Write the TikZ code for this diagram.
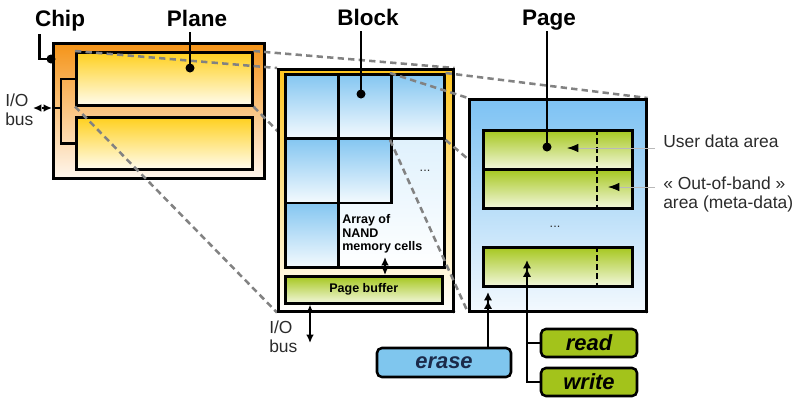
\documentclass[tikz,border=0pt]{standalone}
\usepackage{fontspec}
\setmainfont{Liberation Sans}
\usetikzlibrary{arrows.meta,calc}
\definecolor{chiporange}{HTML}{F59418}
\definecolor{chiplight}{HTML}{FFF7EE}
\definecolor{planegold}{HTML}{FFD01E}
\definecolor{planelight}{HTML}{FFFCEE}
\definecolor{blockgold}{HTML}{FFC61F}
\definecolor{cellblue}{HTML}{84C6F1}
\definecolor{celllight}{HTML}{F4FAFE}
\definecolor{arrayblue}{HTML}{CFEAFB}
\definecolor{pageblue}{HTML}{7DC2F3}
\definecolor{pagelight}{HTML}{F3F9FE}
\definecolor{rowgreen}{HTML}{A6C71F}
\definecolor{rowlight}{HTML}{F2F7DC}
\definecolor{erasefill}{HTML}{7FC6EE}
\definecolor{erasetext}{HTML}{1B2A4A}
\definecolor{opgreen}{HTML}{A3C31B}
\definecolor{zoomgray}{HTML}{828282}
\definecolor{darkgray}{HTML}{2B2B2B}
\newcommand\pxu{0.025cm}
\pgfdeclarelayer{back}
\pgfdeclarelayer{mid}
\pgfsetlayers{back,mid,main}

\begin{document}
\begin{tikzpicture}[x=0.025cm,y=-0.025cm,
  box/.style={draw=black,line width=1.8pt,inner sep=0pt,anchor=north west},
  sized/.style 2 args={minimum width=#1*\pxu,minimum height=#2*\pxu},
  title/.style={font=\bfseries\fontsize{16}{19}\selectfont,inner sep=0pt,anchor=base},
  note/.style={text=darkgray,font=\fontsize{12.4}{13.4}\selectfont,inner sep=0pt},
  small/.style={text=black,font=\bfseries\fontsize{8.9}{9.8}\selectfont},
  lead/.style={line width=1.8pt},
  zoomline/.style={draw=zoomgray,line width=1.8pt,dash pattern=on 4.5pt off 3pt},
  biarrow/.style={line width=1.4pt,{Latex[length=6pt,width=5.5pt]}-{Latex[length=6pt,width=5.5pt]}},
  uparrow/.style={line width=1.8pt,-{Latex[length=6pt,width=6pt]Latex[length=6pt,width=6pt]}},
  pointer/.style={draw=gray!55,line width=0.6pt,-{Latex[color=black,length=8pt,width=6pt]}},
  opbox/.style={draw=black,line width=1.8pt,rounded corners=3.5pt,inner sep=0pt,
    font=\bfseries\itshape\fontsize{15.6}{18}\selectfont}]
  \useasboundingbox (0,0) rectangle (800,404);

  \begin{pgfonlayer}{back}
    \node[box,sized={211}{135},top color=chiporange,bottom color=chiplight] (chip) at (52,42) {};
    \node[box,sized={176}{53},top color=planegold,bottom color=planelight] (plane1) at (75,51) {};
    \node[box,sized={176}{52},top color=planegold,bottom color=planelight] (plane2) at (75,116) {};
    \draw[lead] (plane1.west) -- ++(-14,0) |- (plane2.west);
    \coordinate (busjoin) at (61,108);
    \coordinate (iotip) at (33,108);
    \draw[lead] (busjoin) -- (busjoin -| chip.west);
    \draw[biarrow,dash pattern=on 2pt off 1.5pt] (busjoin -| chip.west) -- (iotip);
  \end{pgfonlayer}

  \begin{pgfonlayer}{mid}
    \node[box,sized={175}{242},top color=blockgold,bottom color=white] (block) at (277,68) {};
    \node[box,sized={159}{193},top color=arrayblue,bottom color=white] (array) at (284,73) {};
    \foreach \c/\r in {0/0,1/0,2/0,0/1,1/1,0/2}
      \node[box,sized={53}{64.33},top color=cellblue,bottom color=celllight]
        (cell-\c-\r) at ({284+53*\c},{73+64.33*\r}) {};
    \node[text=darkgray,font=\fontsize{9}{10}\selectfont] (blockdots) at (425,171) {...};
    \node[small,align=left,anchor=north west,inner sep=0pt] (arraytext) at (342,214)
      {Array of\\NAND\\memory cells};
    \node[box,sized={157}{27},top color=rowgreen,bottom color=rowlight,small] (buffer) at (284,275) {Page buffer};
    \coordinate (bufferlink) at (385,257);
    \draw[biarrow] (bufferlink) -- (buffer.north -| bufferlink);
  \end{pgfonlayer}

  \node[box,sized={177}{212},top color=pageblue,bottom color=pagelight] (page) at (468,98) {};
  \foreach \n/\y in {1/129,2/168,3/246} {
    \node[box,sized={149}{39},top color=rowgreen,bottom color=rowlight] (row\n) at (482,\y) {};
    \draw[line width=1.8pt,dash pattern=on 4pt off 2.5pt]
      ([xshift=115*\pxu]row\n.north west) -- ([xshift=115*\pxu]row\n.south west);
  }
  \node[text=darkgray,font=\fontsize{9}{10}\selectfont] (pagedots) at (555,227) {...};

  \begin{pgfonlayer}{back}
    \draw[zoomline] (plane1.north west) -- (block.north west);
    \draw[zoomline] (plane1.north east) -- (block.north east);
    \draw[zoomline] (plane1.south west) -- (block.south west);
    \draw[zoomline] (plane1.south east) -- (block.south east);
  \end{pgfonlayer}
  \begin{pgfonlayer}{mid}
    \draw[zoomline] (cell-2-0.north west) -- (page.north west);
    \draw[zoomline] (cell-2-0.north east) -- (page.north east);
    \draw[zoomline] (cell-2-0.south west) -- (page.south west);
    \draw[zoomline] (cell-2-0.south east) -- (page.south east);
  \end{pgfonlayer}

  \node[title] (chiplbl) at (60,26) {Chip};
  \node[title] (planelbl) at (197,26) {Plane};
  \node[title] (blocklbl) at (368,25) {Block};
  \node[title] (pagelbl) at (549,25) {Page};
  \coordinate (chipdot) at (51,59);
  \coordinate (planedot) at (190,68);
  \coordinate (blockdot) at (361,94);
  \coordinate (pagedot) at (547,147);
  \foreach \d in {chipdot,planedot,blockdot,pagedot}
    \fill (\d) circle (3.2pt);
  \draw[lead] ($(chiplbl.base west)+(5,8)$) |- (chipdot);
  \draw[lead] ($(planelbl.base -| planedot)+(0,6)$) -- (planedot);
  \draw[lead] ($(blocklbl.base -| blockdot)+(0,6)$) -- (blockdot);
  \draw[lead] ($(pagelbl.base -| pagedot)+(0,6)$) -- (pagedot);

  \node[note,align=left,anchor=west] (iolbl) at (5,110) {I/O\\bus};
  \node[note,align=left,anchor=west] (buslbl) at (269,337) {I/O\\bus};
  \coordinate (bustip) at (310,343);
  \draw[biarrow] (buffer.south -| bustip) -- (bustip);

  \node[note,anchor=base west] (userlbl) at (663,147) {User data area};
  \node[note,align=left,anchor=north west] (ooblbl) at (663,177) {« Out-of-band »\\area (meta-data)};
  \coordinate (udtip) at (567,148);
  \coordinate (oobtip) at (608,187);
  \draw[pointer] ($(userlbl.base west)+(-8,1)$) -- (udtip);
  \draw[pointer] (ooblbl.west |- oobtip) ++(-8,0) -- (oobtip);

  \node[opbox,sized={134}{29},fill=erasefill,text=erasetext] (erase) at (444,362.5) {erase};
  \node[opbox,sized={96}{28},fill=opgreen] (read) at (589,343) {read};
  \node[opbox,sized={96}{28},fill=opgreen] (write) at (589,382) {write};
  \coordinate (erasetip) at (488,292);
  \coordinate (rwtip) at (527,260);
  \draw[uparrow] (erase.north -| erasetip) -- (erasetip);
  \draw[uparrow] (write.west) -| (rwtip);
  \draw[lead] (read.west) -- (read.west -| rwtip);
\end{tikzpicture}
\end{document}
